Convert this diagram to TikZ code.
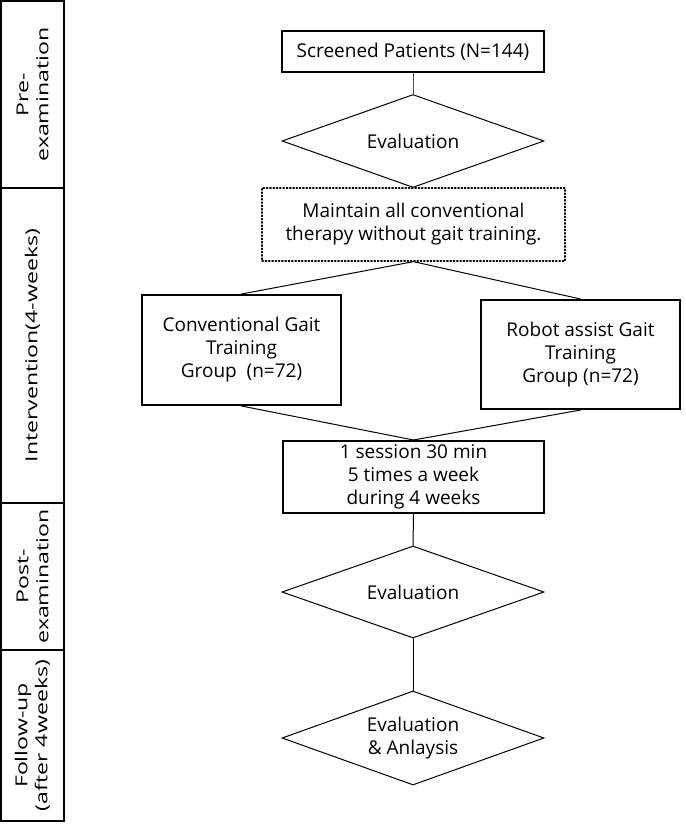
\documentclass[tikz,border=0pt]{standalone}
\usepackage{fontspec}
\setmainfont{Open Sans}
\newfontfamily\stagefont[FakeStretch=1.4]{Open Sans}
\usepackage{tikz}
\usetikzlibrary{shapes.geometric}

\begin{document}
\begin{tikzpicture}[x=1pt,y=-1pt,line cap=round,
  font=\fontsize{19}{23}\selectfont,
  stage/.style={draw,line width=2pt,rotate=90,inner sep=0pt,align=center,minimum height=63pt,
    font=\stagefont\fontsize{16.5}{20}\selectfont},
  box/.style={draw,line width=2pt,inner sep=0pt,align=center},
  decide/.style={draw,diamond,aspect=2.8,line width=1pt,inner sep=0pt,align=center,minimum width=262pt,minimum height=93pt},
  link/.style={line width=1pt}]
\useasboundingbox (0,0) rectangle (685,824);
\node[stage,minimum width=187pt] (pre) at (32.5,94.5) {Pre-\\examination};
\node[stage,minimum width=315pt] (inter) at (32.5,345.5) {Intervention(4-weeks)};
\node[stage,minimum width=147pt] (post) at (32.5,576.5) {Post-\\examination};
\node[stage,minimum width=171pt] (follow) at (32.5,735.5) {Follow-up\\(after 4weeks)};
\node[box,minimum width=262pt,minimum height=41pt] (screen) at (413,52) {Screened Patients (N=144)};
\node[decide] (eval1) at (413,141) {Evaluation};
\node[box,line width=1.3pt,dotted,minimum width=303pt,minimum height=73pt] (keep) at (413.5,224.5) {Maintain all conventional\\therapy without gait training.};
\node[box,minimum width=199pt,minimum height=110pt] (conv) at (241.5,350) {Conventional Gait\\Training\\Group~~(n=72)};
\node[box,minimum width=199pt,minimum height=109pt] (robot) at (580.5,354.5) {Robot assist Gait\\Training\\Group (n=72)};
\node[box,minimum width=261pt,minimum height=72pt] (session) at (413.5,477) {1 session 30 min\\5 times a week\\during 4 weeks};
\node[decide,minimum height=92pt] (eval2) at (413,592) {Evaluation};
\node[decide,minimum height=94pt] (eval3) at (413,738) {Evaluation\\\& Anlaysis};
\draw[link,blue!50!gray] (screen.south) -- (eval1.north);
\draw[link] (keep.south) -- (conv.north);
\draw[link] (keep.south) -- (robot.north);
\draw[link] (conv.south) -- (session.north);
\draw[link] (robot.south) -- (session.north);
\draw[link] (session.south) -- (eval2.north);
\draw[link] (eval2.south) -- (eval3.north);
\end{tikzpicture}
\end{document}
